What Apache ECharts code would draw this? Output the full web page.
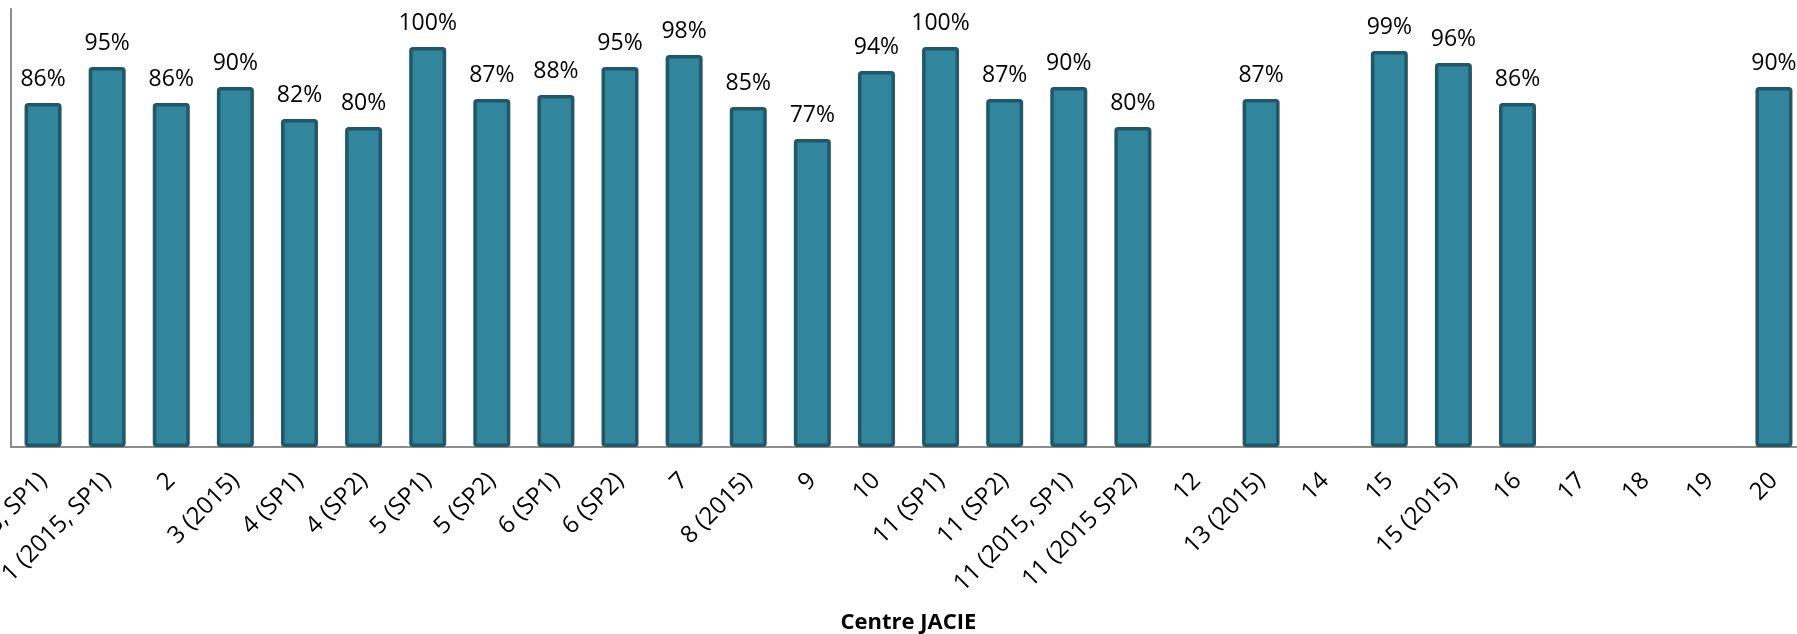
<!DOCTYPE html>
<html>
<head>
<meta charset="utf-8">
<script src="https://cdn.jsdelivr.net/npm/echarts@6/dist/echarts.min.js"></script>
<style>
  html, body { margin: 0; padding: 0; background: #ffffff; }
  #chart { width: 1797px; height: 634px; }
</style>
</head>
<body>
<div id="chart"></div>
<script>
// Centres JACIE and their score (%); empty entries have no score
const centres = [
  '1 (2015, SP1)', '1 (2015, SP1)', '2', '3 (2015)', '4 (SP1)', '4 (SP2)', '5 (SP1)',
  '5 (SP2)', '6 (SP1)', '6 (SP2)', '7', '8 (2015)', '9', '10', '11 (SP1)', '11 (SP2)',
  '11 (2015, SP1)', '11 (2015 SP2)', '12', '13 (2015)', '14', '15', '15 (2015)', '16',
  '17', '18', '19', '20'
];
const scores = [
  86, 95, 86, 90, 82, 80, 100,
  87, 88, 95, 98, 85, 77, 94, 100, 87,
  90, 80, null, 87, null, 99, 96, 86,
  null, null, null, 90
];
const axisTitle = 'Centre JACIE';

const FONT = '"Open Sans", "Noto Sans", sans-serif';

const chart = echarts.init(document.getElementById('chart'), null, { renderer: 'canvas' });
chart.setOption({
  animation: false,
  backgroundColor: '#ffffff',
  grid: {
    left: 11, right: -9, top: 9, bottom: 187,
    containLabel: false,
    outerBoundsMode: 'none'
  },
  xAxis: {
    type: 'category',
    data: centres,
    axisLine: { show: true, lineStyle: { color: '#8c8c8c', width: 2 } },
    axisTick: { show: false },
    axisLabel: {
      interval: 0,
      rotate: 45,
      margin: 30,
      color: '#000000',
      fontFamily: FONT,
      fontSize: 24
    },
    name: axisTitle,
    nameLocation: 'middle',
    nameGap: 165,
    nameTextStyle: {
      color: '#000000',
      fontFamily: FONT,
      fontWeight: 'bold',
      fontSize: 22
    }
  },
  yAxis: {
    type: 'value',
    min: 0,
    max: 109.5,
    axisLine: { show: true, lineStyle: { color: '#8c8c8c', width: 2 } },
    axisTick: { show: false },
    axisLabel: { show: false },
    splitLine: { show: false }
  },
  series: [{
    type: 'bar',
    data: scores,
    barWidth: 37,
    itemStyle: {
      color: '#31859c',
      borderColor: '#215868',
      borderWidth: 3.5,
      borderRadius: 2
    },
    label: {
      show: true,
      position: 'top',
      distance: 12,
      formatter: '{c}%',
      color: '#000000',
      fontFamily: FONT,
      fontSize: 23
    }
  }]
});
</script>
</body>
</html>
